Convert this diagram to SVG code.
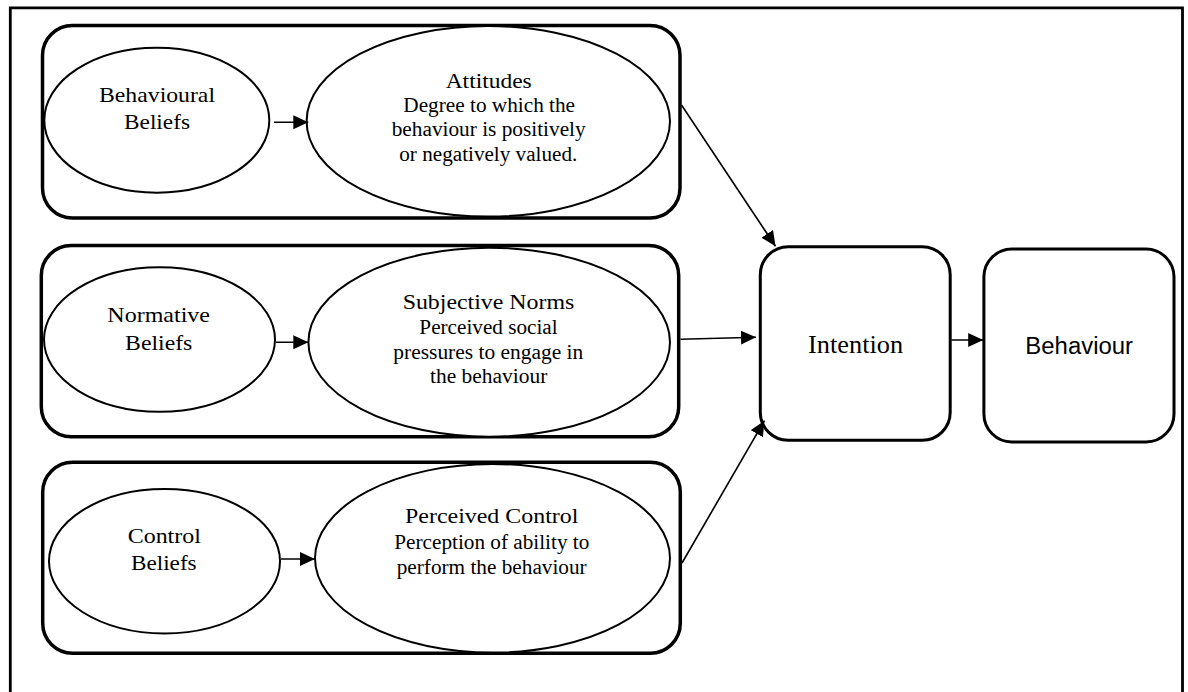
<svg xmlns="http://www.w3.org/2000/svg" width="1188" height="692" viewBox="0 0 1188 692">
<style>
.grp{fill:none;stroke:#000;stroke-width:3.5}
.ell{fill:#fff;stroke:#000;stroke-width:2}
.box{fill:#fff;stroke:#000;stroke-width:3}
.con{fill:none;stroke:#000;stroke-width:1.6}
.t{font-family:"Liberation Serif","Times New Roman",serif;fill:#000;text-anchor:middle}
.s{font-family:"Liberation Sans",Arial,sans-serif;fill:#000;text-anchor:middle}
</style>
<defs>
<marker id="ah" markerUnits="userSpaceOnUse" markerWidth="16" markerHeight="15" refX="15" refY="7" orient="auto" viewBox="0 0 16 15">
<path d="M0,0 L15,7 L0,14 Z" fill="#000"/>
</marker>
</defs>
<rect width="1188" height="692" fill="#fff"/>
<path id="frame" d="M10.3,700 V7.8 H1182.5 V700" fill="none" stroke="#000" stroke-width="2.8"/>

<g id="group-attitudes">
<rect class="grp" x="42.5" y="25.5" width="637.5" height="192.5" rx="30"/>
</g>
<g id="group-norms">
<rect class="grp" x="41.3" y="245.5" width="637.4" height="191.2" rx="30"/>
</g>
<g id="group-control">
<rect class="grp" x="42.7" y="462.3" width="637.6" height="191" rx="30"/>
</g>

<g id="behavioural-beliefs">
<ellipse class="ell" cx="156.8" cy="120.2" rx="112.5" ry="72.5"/>
<text class="t" font-size="22" x="157" y="101.7" textLength="116" lengthAdjust="spacingAndGlyphs">Behavioural</text>
<text class="t" font-size="22" x="157" y="129.3" textLength="66" lengthAdjust="spacingAndGlyphs">Beliefs</text>
</g>
<g id="attitudes">
<ellipse class="ell" cx="488.3" cy="121.3" rx="181.7" ry="95.3"/>
<text class="t" font-size="22" x="488.7" y="87.5" textLength="86" lengthAdjust="spacingAndGlyphs">Attitudes</text>
<text class="t" font-size="20" x="489.2" y="111.7" textLength="171.7" lengthAdjust="spacingAndGlyphs">Degree to which the</text>
<text class="t" font-size="20" x="488.7" y="136.4" textLength="194" lengthAdjust="spacingAndGlyphs">behaviour is positively</text>
<text class="t" font-size="20" x="488.3" y="160.7" textLength="178" lengthAdjust="spacingAndGlyphs">or negatively valued.</text>
</g>

<g id="normative-beliefs">
<ellipse class="ell" cx="159.5" cy="339.5" rx="115.5" ry="72.2"/>
<text class="t" font-size="22" x="158.7" y="322.3" textLength="102.7" lengthAdjust="spacingAndGlyphs">Normative</text>
<text class="t" font-size="22" x="158.7" y="350" textLength="67.3" lengthAdjust="spacingAndGlyphs">Beliefs</text>
</g>
<g id="subjective-norms">
<ellipse class="ell" cx="489.2" cy="342.2" rx="180.8" ry="94.5"/>
<text class="t" font-size="22" x="488.5" y="309" textLength="171.7" lengthAdjust="spacingAndGlyphs">Subjective Norms</text>
<text class="t" font-size="20" x="488.5" y="334.3" textLength="138.3" lengthAdjust="spacingAndGlyphs">Perceived social</text>
<text class="t" font-size="20" x="488.3" y="359.3" textLength="190" lengthAdjust="spacingAndGlyphs">pressures to engage in</text>
<text class="t" font-size="20" x="488.7" y="383.3" textLength="117.3" lengthAdjust="spacingAndGlyphs">the behaviour</text>
</g>

<g id="control-beliefs">
<ellipse class="ell" cx="164.5" cy="561.2" rx="115.5" ry="72.2" stroke-width="1.4"/>
<text class="t" font-size="22" x="164.3" y="542.7" textLength="73.3" lengthAdjust="spacingAndGlyphs">Control</text>
<text class="t" font-size="22" x="163.8" y="570" textLength="65.7" lengthAdjust="spacingAndGlyphs">Beliefs</text>
</g>
<g id="perceived-control">
<ellipse class="ell" cx="492.5" cy="558.3" rx="177.5" ry="94.3"/>
<text class="t" font-size="22" x="491.7" y="523.3" textLength="173.3" lengthAdjust="spacingAndGlyphs">Perceived Control</text>
<text class="t" font-size="20" x="491.8" y="549" textLength="195" lengthAdjust="spacingAndGlyphs">Perception of ability to</text>
<text class="t" font-size="20" x="491.7" y="574" textLength="190" lengthAdjust="spacingAndGlyphs">perform the behaviour</text>
</g>

<g id="intention">
<rect class="box" x="760.3" y="246.7" width="189.9" height="193.6" rx="28"/>
<text class="t" font-size="25" x="855.6" y="353.4" textLength="95" lengthAdjust="spacingAndGlyphs">Intention</text>
</g>
<g id="behaviour">
<rect class="box" x="983.9" y="249" width="190.1" height="193" rx="28"/>
<text class="s" font-size="23" x="1079.2" y="354.4" textLength="107.7" lengthAdjust="spacingAndGlyphs">Behaviour</text>
</g>

<g id="connectors">
<line class="con" x1="274" y1="122.3" x2="308.3" y2="122.3" marker-end="url(#ah)"/>
<line class="con" x1="276" y1="342.3" x2="308.3" y2="342.3" marker-end="url(#ah)"/>
<line class="con" x1="281" y1="559" x2="315" y2="559" marker-end="url(#ah)"/>
<line class="con" x1="681.5" y1="105" x2="775.5" y2="246.3" marker-end="url(#ah)"/>
<line class="con" x1="680.5" y1="339.3" x2="756" y2="337.2" marker-end="url(#ah)"/>
<line class="con" x1="682" y1="563" x2="764.4" y2="420.7" marker-end="url(#ah)"/>
<line class="con" x1="951.5" y1="340" x2="983.2" y2="340" marker-end="url(#ah)"/>
</g>
</svg>
